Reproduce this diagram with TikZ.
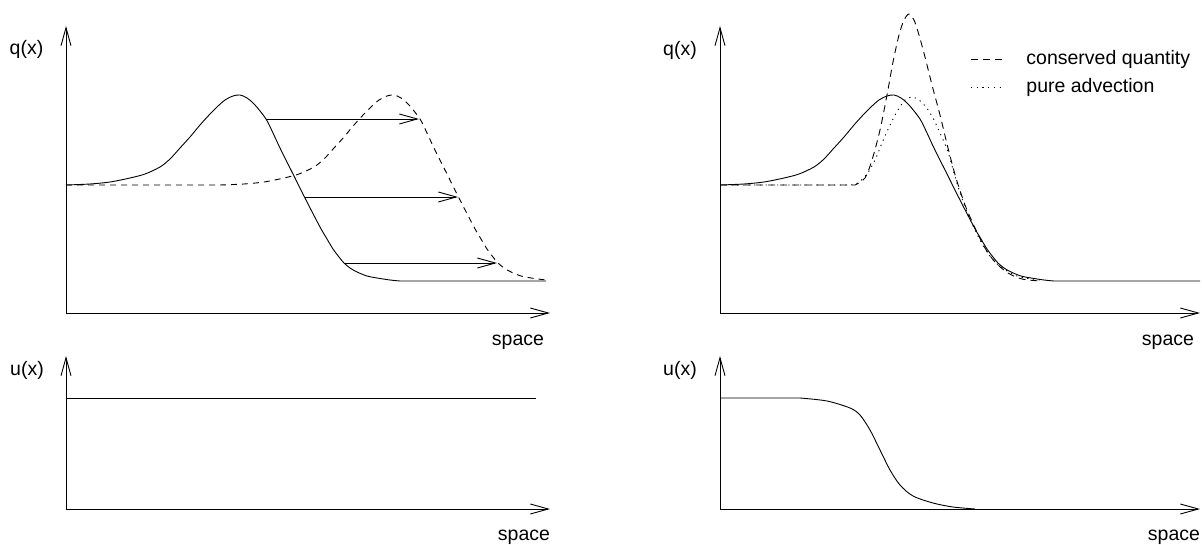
\documentclass[tikz,border=0pt]{standalone}
\usepackage{fontspec}
\setmainfont{Liberation Sans}
\usetikzlibrary{arrows.meta}
\begin{document}
\begin{tikzpicture}[x=1pt,y=-1pt,
  every path/.style={line width=0.9pt},
  axis/.style={-{Straight Barb[length=18pt,width=10pt]}},
  shiftarrow/.style={-{Straight Barb[length=18pt,width=10pt]}},
  lab/.style={font=\fontsize{19.5}{22}\selectfont, inner sep=0pt},
  dashedA/.style={dash pattern=on 6pt off 5pt},
  dashedB/.style={dash pattern=on 7pt off 5pt},
  dottedA/.style={dash pattern=on 1.2pt off 4.5pt},
  curve/.style={smooth, tension=0.5}]
\useasboundingbox (0,0) rectangle (1202,545);

% ---------- top left ----------
\coordinate (o1) at (66,313);
\coordinate (y1) at (66,26);
\coordinate (x1) at (550,313);
\draw[axis] (o1) -- (y1);
\draw[axis] (o1) -- (x1);
\node[lab] (q1) at (26.5,49) {q(x)};
\node[lab,anchor=base] (s1) at (518,345) {space};

\draw plot[curve] coordinates {(66,185) (90,184) (110,182) (130,178) (145,174) (160,167) (170,159) (180,148) (190,137) (200,125) (210,114) (217,107) (225,100) (233,96) (240,95) (247,98) (255,105) (266,119) (273,133) (280,148) (293,174) (306,200) (320,227) (327,239) (333,249) (339,257) (344,263) (350,268) (357,272) (367,276) (377,278) (390,280) (400,281)} -- (546,281);

\draw[dashedA] (66,185) -- (220,185) -- plot[curve] coordinates {(220,185) (244,184) (264,182) (284,178) (299,174) (314,167) (324,159) (334,148) (344,137) (354,125) (364,114) (371,107) (379,100) (387,96) (394,95) (401,98) (409,105) (420,119) (427,133) (434,148) (447,174) (460,200) (474,227) (481,239) (487,249) (493,257) (498,263) (504,268) (511,272) (521,276) (531,278) (546,280)};

\coordinate (a1s) at (266,119); \coordinate (a1e) at (419,119);
\coordinate (a2s) at (305,197); \coordinate (a2e) at (458,197);
\coordinate (a3s) at (344,263); \coordinate (a3e) at (497,263);
\draw[shiftarrow] (a1s) -- (a1e);
\draw[shiftarrow] (a2s) -- (a2e);
\draw[shiftarrow] (a3s) -- (a3e);

% ---------- bottom left ----------
\coordinate (o2) at (66,509);
\coordinate (y2) at (66,356);
\coordinate (x2) at (550,509);
\draw[axis] (o2) -- (y2);
\draw[axis] (o2) -- (x2);
\node[lab] (u1) at (27,370) {u(x)};
\node[lab,anchor=base] (s2) at (524,540) {space};
\coordinate (ua) at (66,398); \coordinate (ub) at (536,398);
\draw (ua) -- (ub);

% ---------- top right ----------
\coordinate (o3) at (720,313);
\coordinate (y3) at (720,26);
\coordinate (x3) at (1200,313);
\draw[axis] (o3) -- (y3);
\draw[axis] (o3) -- (x3);
\node[lab] (q2) at (680,50) {q(x)};
\node[lab,anchor=base] (s3) at (1168,345) {space};

\draw plot[curve] coordinates {(720,185) (744,184) (764,182) (784,178) (799,174) (814,167) (824,159) (834,148) (844,137) (854,125) (864,114) (871,107) (879,100) (887,96) (894,95) (901,98) (909,105) (920,119) (927,133) (934,148) (947,174) (960,200) (974,227) (981,239) (987,249) (993,257) (998,263) (1004,268) (1011,272) (1021,276) (1031,278) (1044,280) (1054,281)} -- (1200,281);

\draw[dashedB] (720,185) -- (855,185) -- plot[curve] coordinates {(855,185) (865,178) (872,160) (880,130) (887,95) (893,62) (899,35) (904,20) (909,14) (914,20) (919,35) (925,57) (932,85) (940,115) (948,148) (956,178) (965,205) (975,228) (985,248) (995,262) (1008,273) (1022,279) (1040,281)};

\draw[dottedA] (720,185) -- (850,185) -- plot[curve] coordinates {(850,185) (858,183) (867,174) (875,160) (882,143) (890,125) (898,110) (905,100) (912,97) (919,100) (926,107) (933,118) (940,133) (948,152) (956,180) (965,207) (975,230) (985,249) (995,262) (1007,271) (1020,277) (1040,280)};

% legend
\coordinate (la) at (971,59); \coordinate (lb) at (1004,59);
\coordinate (lc) at (971,87); \coordinate (ld) at (1004,87);
\draw[dashedB] (la) -- (lb);
\draw[dottedA] (lc) -- (ld);
\node[lab,anchor=base west] (l1) at (1026,65) {conserved quantity};
\node[lab,anchor=base west] (l2) at (1026,93) {pure advection};

% ---------- bottom right ----------
\coordinate (o4) at (720,509);
\coordinate (y4) at (720,356);
\coordinate (x4) at (1200,509);
\draw[axis] (o4) -- (y4);
\draw[axis] (o4) -- (x4);
\node[lab] (u2) at (680,370) {u(x)};
\node[lab,anchor=base] (s4) at (1174,540) {space};
\draw (720,398) -- (800,398) -- plot[curve] coordinates {(800,398) (827,401) (850,408) (860,415) (870,430) (880,450) (890,470) (900,485) (913,496) (933,503) (953,507) (975,509)};
\end{tikzpicture}
\end{document}
